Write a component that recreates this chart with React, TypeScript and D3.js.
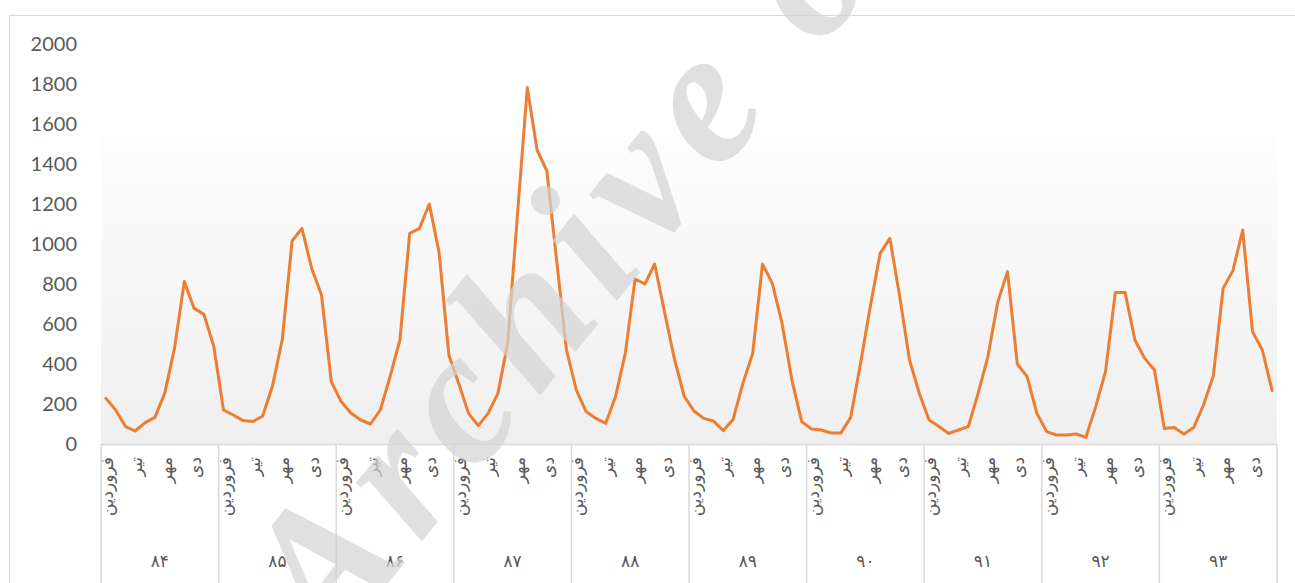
import React from 'react';
import * as d3 from 'd3';

const years = ['۸۴', '۸۵', '۸۶', '۸۷', '۸۸', '۸۹', '۹۰', '۹۱', '۹۲', '۹۳'];
const monthLabels = ['فروردین', '', '', 'تیر', '', '', 'مهر', '', '', 'دی', '', ''];

const v84 = [228, 170, 87, 65, 107, 133, 253, 478, 812, 678, 648, 490];
const v85 = [170, 145, 117, 112, 140, 290, 523, 1015, 1078, 878, 745, 312];
const v86 = [212, 155, 120, 100, 170, 337, 520, 1053, 1078, 1200, 957, 445];
const v87 = [303, 153, 92, 153, 253, 503, 1150, 1782, 1470, 1365, 915, 470];
const v88 = [270, 162, 128, 103, 237, 453, 825, 800, 900, 660, 428, 240];
const v89 = [165, 128, 115, 67, 123, 303, 453, 900, 803, 603, 320, 112];
const v90 = [75, 70, 55, 55, 133, 403, 687, 953, 1028, 737, 420, 253];
const v91 = [120, 87, 53, 70, 87, 253, 437, 708, 862, 400, 337, 153];
const v92 = [62, 45, 45, 50, 33, 187, 362, 758, 758, 520, 428, 370];
const v93 = [78, 83, 50, 82, 195, 340, 778, 867, 1070, 562, 470, 267];

const yTicks = [0, 200, 400, 600, 800, 1000, 1200, 1400, 1600, 1800, 2000];

const values = [v84, v85, v86, v87, v88, v89, v90, v91, v92, v93].flat();

const W = 1295;
const H = 583;
const plot = { left: 101, right: 1277, top: 44, bottom: 444 };

export default function App() {
  const x = d3
    .scaleBand<number>()
    .domain(d3.range(values.length))
    .range([plot.left, plot.right]);
  const bw = x.bandwidth();
  const cx = (i: number) => (x(i) as number) + bw / 2;
  const y = d3.scaleLinear().domain([0, 2000]).range([plot.bottom, plot.top]);

  const line = d3
    .line<number>()
    .x((_, i) => cx(i))
    .y(d => y(d));

  const yearW = bw * 12;
  const grey = '#595959';

  return (
    <svg
      width={W}
      height={H}
      style={{ position: 'absolute', left: 0, top: 0, background: '#fff' }}
    >
      <defs>
        <linearGradient id="plotbg" x1="0" y1="0" x2="0" y2="1">
          <stop offset="0%" stopColor="#fdfdfd" />
          <stop offset="100%" stopColor="#efefef" />
        </linearGradient>
      </defs>
      {/* chart frame */}
      <rect x={9.5} y={15.5} width={W + 20} height={H + 20} fill="#fff" stroke="#d9d9d9" />
      <rect
        x={plot.left}
        y={y(1540)}
        width={plot.right - plot.left}
        height={plot.bottom - y(1540)}
        fill="url(#plotbg)"
      />

      {/* y axis labels */}
      {yTicks.map(t => (
        <text
          key={t}
          x={77}
          y={y(t)}
          dy="0.35em"
          textAnchor="end"
          fontFamily="Lato, 'Open Sans', sans-serif"
          fontSize={20}
          fill={grey}
        >
          {t}
        </text>
      ))}

      {/* category axis */}
      <line x1={plot.left} x2={plot.right} y1={plot.bottom + 0.5} y2={plot.bottom + 0.5} stroke="#d9d9d9" strokeWidth={1.5} />
      {d3.range(years.length + 1).map(k => (
        <line
          key={k}
          x1={plot.left + k * yearW}
          x2={plot.left + k * yearW}
          y1={plot.bottom}
          y2={H}
          stroke="#d9d9d9"
          strokeWidth={1.5}
        />
      ))}
      {values.map((_, i) =>
        monthLabels[i % 12] ? (
          <text
            key={'m' + i}
            transform={`translate(${cx(i) + 1},${plot.bottom + 13}) rotate(-90)`}
            textAnchor="end"
            dominantBaseline="central"
            fontFamily="'DejaVu Sans', sans-serif"
            fontSize={17}
            letterSpacing={1.5}
            fill={grey}
          >
            {monthLabels[i % 12]}
          </text>
        ) : null
      )}
      {years.map((yr, k) => (
        <text
          key={yr}
          x={plot.left + k * yearW + yearW / 2}
          y={561}
          dy="0.35em"
          textAnchor="middle"
          fontFamily="'DejaVu Sans', sans-serif"
          fontSize={17}
          fill={grey}
        >
          {yr}
        </text>
      ))}

      {/* series */}
      <path
        d={line(values) || ''}
        fill="none"
        stroke="#ED7D31"
        strokeWidth={3}
        strokeLinejoin="round"
        strokeLinecap="round"
      />

      {/* watermark */}
      <text
        transform="translate(330,655) rotate(-51)"
        fontFamily="'Liberation Serif', serif"
        fontWeight="bold"
        fontStyle="italic"
        fontSize={192}
        letterSpacing={14}
        fill="#d4d4d4"
        opacity={0.7}
      >
        Archive of SID
      </text>
    </svg>
  );
}
